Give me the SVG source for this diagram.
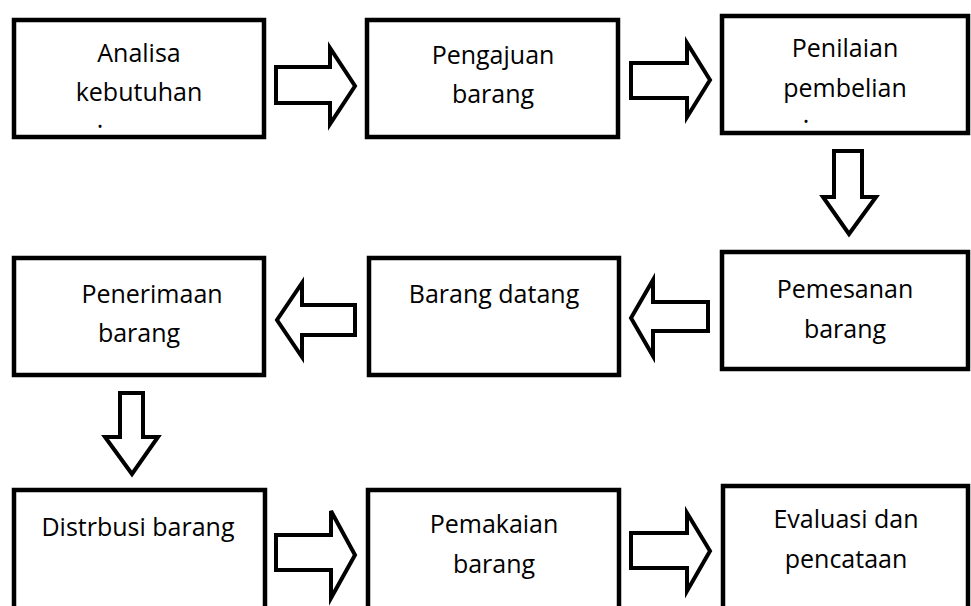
<svg xmlns="http://www.w3.org/2000/svg" width="971" height="606" viewBox="0 0 971 606">
<style>
.box{fill:#fff;stroke:#000;stroke-width:4.5}
.arr{fill:#fff;stroke:#000;stroke-width:4;stroke-linejoin:miter}
.t{font-family:"Open Sans","Noto Sans",sans-serif;font-size:25px;fill:#000;text-anchor:middle}
</style>
<rect width="971" height="606" fill="#fff"/>
<g id="connectors">
<polygon class="arr" points="276,67 330,67 330,48 355,86 330,124 330,103 276,103"/>
<polygon class="arr" points="631,63 687,63 687,43 710,80 687,117 687,98 631,98"/>
<polygon class="arr" points="834,151 862,151 862,197 876,197 849,234 823,197 834,197"/>
<polygon class="arr" points="708,302 653,302 653,280 631,318 653,356 653,331 708,331"/>
<polygon class="arr" points="355,305 302,305 302,283 277,320 302,357 302,335 355,335"/>
<polygon class="arr" points="120,393 143,393 143,437 158,437 132,474 105,437 120,437"/>
<polygon class="arr" points="276,535 331,535 331,511 355,555 331,598 331,570 276,570"/>
<polygon class="arr" points="631,533 687,533 687,513 710,551 687,591 687,568 631,568"/>
</g>
<g id="n1"><rect class="box" x="14" y="20" width="250" height="117"/><text class="t" x="139" y="62">Analisa</text><text class="t" x="139" y="101">kebutuhan</text><text class="t" x="100" y="128">.</text></g>
<g id="n2"><rect class="box" x="367" y="20" width="251" height="117"/><text class="t" x="493" y="64">Pengajuan</text><text class="t" x="493" y="103">barang</text></g>
<g id="n3"><rect class="box" x="722" y="16" width="246" height="117"/><text class="t" x="845" y="57">Penilaian</text><text class="t" x="845" y="97">pembelian</text><text class="t" x="806" y="123">.</text></g>
<g id="n4"><rect class="box" x="722" y="252" width="246" height="117"/><text class="t" x="845" y="298">Pemesanan</text><text class="t" x="845" y="338">barang</text></g>
<g id="n5"><rect class="box" x="369" y="258" width="250" height="117"/><text class="t" x="494" y="303">Barang datang</text></g>
<g id="n6"><rect class="box" x="14" y="258" width="250" height="117"/><text class="t" x="152" y="303">Penerimaan</text><text class="t" x="139" y="342">barang</text></g>
<g id="n7"><rect class="box" x="14" y="490" width="251" height="130"/><text class="t" x="138" y="536">Distrbusi barang</text></g>
<g id="n8"><rect class="box" x="368" y="490" width="251" height="130"/><text class="t" x="494" y="533">Pemakaian</text><text class="t" x="494" y="573">barang</text></g>
<g id="n9"><rect class="box" x="723" y="486" width="245" height="130"/><text class="t" x="846" y="528">Evaluasi dan</text><text class="t" x="846" y="568">pencataan</text></g>
</svg>
